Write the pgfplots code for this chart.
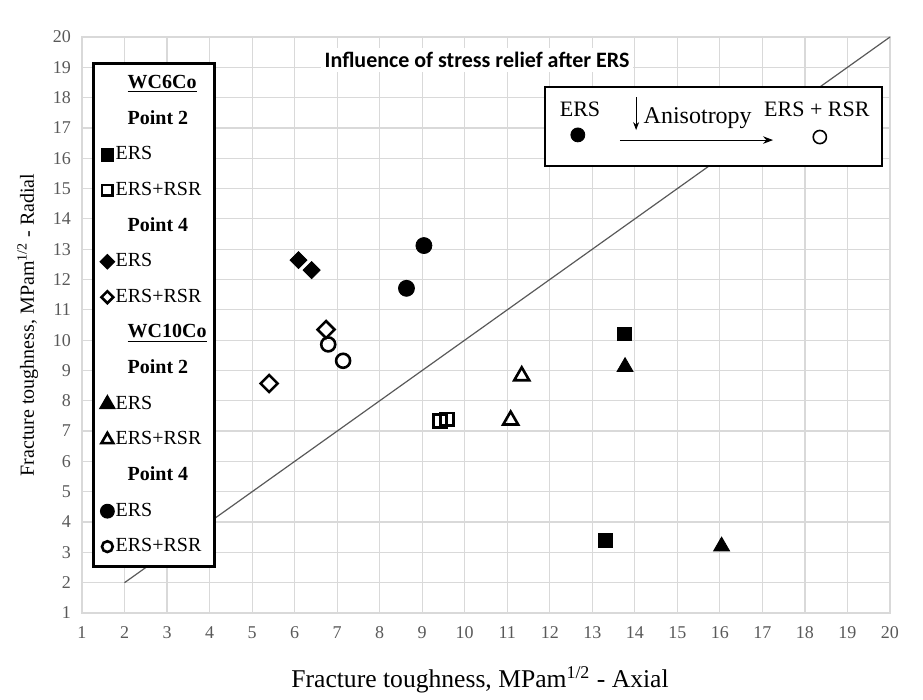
\documentclass[border=0pt]{standalone}
\usepackage{pgfplots}
\pgfplotsset{compat=1.18}
\usepackage{fontspec}
\setmainfont{Liberation Serif}
\newfontfamily\titlefont{Carlito}
\usetikzlibrary{arrows.meta}

\definecolor{gridc}{RGB}{217,217,217}
\definecolor{tickc}{RGB}{89,89,89}

% only marks, with a narrow legend image and its own legend mark size
\pgfplotsset{
  mk/.style={only marks,
    legend image code/.code={\draw[mark repeat=2,mark phase=2,##1,mark size=#1] plot coordinates {(0cm,0cm) (0.14cm,0cm) (0.28cm,0cm)};}},
}

\begin{document}
\begin{tikzpicture}
\begin{axis}[
  scale only axis,
  width=404pt, height=288pt,
  xmin=1, xmax=20, ymin=1, ymax=20,
  xtick={1,...,20}, ytick={1,...,20},
  grid=major,
  grid style={gridc, line width=0.6pt},
  axis line style={gridc, line width=0.8pt},
  major tick length=0pt,
  tick label style={font=\fontsize{9}{10}\selectfont, text=tickc},
  /pgf/number format/assume math mode=true,
  xticklabel style={anchor=base, yshift=-13pt},
  yticklabel style={xshift=-2pt},
  every axis y label/.style={at={(axis description cs:-0.067,0.5)},rotate=90,anchor=center,
    font=\fontsize{10}{12}\selectfont},
  every axis x label/.style={at={(axis description cs:0.4926,-0.116)},anchor=center,
    font=\fontsize{12.8}{14}\selectfont},
  xlabel={Fracture toughness, MPam\textsuperscript{1/2} - Axial},
  ylabel={Fracture toughness, MPam\textsuperscript{1/2} - Radial},
  clip=false,
  legend cell align=left,
  legend style={at={(rel axis cs:0.0124,0.957)}, anchor=north west,
    draw=black, line width=1.4pt, font=\fontsize{10}{12}\selectfont,
    row sep=5.6pt, inner xsep=3pt, inner ysep=4pt,
    nodes={inner xsep=1pt}},
]
% y = x reference line
\addplot[forget plot, color=black!65, line width=0.6pt] coordinates {(2,2) (20,20)};

\addlegendimage{empty legend}
\addlegendentry{\hspace{6pt}\textbf{\underline{WC6Co}}}
\addlegendimage{empty legend}
\addlegendentry{\hspace{6pt}\textbf{Point 2}}

% WC6Co, point 2, ERS
\addplot[mk=2.7pt, mark=square*, mark size=3.4pt, black] coordinates {(13.75,10.2) (13.31,3.4)};
\addlegendentry{ERS}
% WC6Co, point 2, ERS+RSR
\addplot[mk=2.6pt, mark=square, mark size=3.2pt, black, mark options={line width=1.3pt, fill=white}] coordinates {(9.42,7.33) (9.58,7.39)};
\addlegendentry{ERS+RSR}

\addlegendimage{empty legend}
\addlegendentry{\hspace{6pt}\textbf{Point 4}}

% WC6Co, point 4, ERS
\addplot[mk=2.1pt, mark=square*, mark size=3pt, black, mark options={rotate=45}] coordinates {(6.09,12.64) (6.40,12.31)};
\addlegendentry{ERS}
% WC6Co, point 4, ERS+RSR
\addplot[mk=2.1pt, mark=square, mark size=3pt, black, mark options={rotate=45, line width=1.3pt}] coordinates {(6.74,10.35) (5.40,8.57)};
\addlegendentry{ERS+RSR}

\addlegendimage{empty legend}
\addlegendentry{\hspace{6pt}\textbf{\underline{WC10Co}}}
\addlegendimage{empty legend}
\addlegendentry{\hspace{6pt}\textbf{Point 2}}

% WC10Co, point 2, ERS
\addplot[mk=3.6pt, mark=triangle*, mark size=4.6pt, black] coordinates {(13.77,9.12) (16.04,3.2)};
\addlegendentry{ERS}
% WC10Co, point 2, ERS+RSR
\addplot[mk=3.4pt, mark=triangle, mark size=4.3pt, black, mark options={line width=1.3pt}] coordinates {(11.34,8.82) (11.08,7.36)};
\addlegendentry{ERS+RSR}

\addlegendimage{empty legend}
\addlegendentry{\hspace{6pt}\textbf{Point 4}}

% WC10Co, point 4, ERS
\addplot[mk=3pt, mark=*, mark size=4pt, black] coordinates {(9.04,13.12) (8.63,11.71)};
\addlegendentry{ERS}
% WC10Co, point 4, ERS+RSR
\addplot[mk=2.7pt, mark=o, mark size=3.5pt, black, mark options={line width=1.3pt}] coordinates {(6.79,9.86) (7.14,9.32)};
\addlegendentry{ERS+RSR}

% title
\node[fill=white, inner sep=2pt, font=\titlefont\bfseries\fontsize{11}{13}\selectfont]
  at (axis cs:10.29,19.24) {Influence of stress relief after ERS};

% anisotropy box
\draw[black, line width=0.8pt, fill=white] (axis cs:11.89,15.74) rectangle (axis cs:19.81,18.35);
\node[font=\fontsize{11}{13}\selectfont] at (axis cs:12.71,17.62) {ERS};
\node[font=\fontsize{11}{13}\selectfont] at (axis cs:18.28,17.62) {ERS + RSR};
\node[font=\fontsize{12}{14}\selectfont, anchor=west, inner sep=0pt] at (axis cs:14.2,17.33) {Anisotropy};
\draw[-{Stealth[length=5pt]}, line width=0.5pt] (axis cs:13.65,16.6) -- (axis cs:17.25,16.6);
\draw[-{Stealth[length=4pt]}, line width=0.5pt] (axis cs:14.03,18.02) -- (axis cs:14.03,16.93);
\addplot[forget plot, only marks, mark=*, mark size=3.5pt, black] coordinates {(12.66,16.77)};
\addplot[forget plot, only marks, mark=o, mark size=3.3pt, black, mark options={line width=0.8pt}] coordinates {(18.35,16.7)};
\end{axis}
\path ([xshift=-41pt,yshift=-43.5pt]current axis.south west) rectangle ([xshift=16.5pt,yshift=18.5pt]current axis.north east);
\end{tikzpicture}
\end{document}
